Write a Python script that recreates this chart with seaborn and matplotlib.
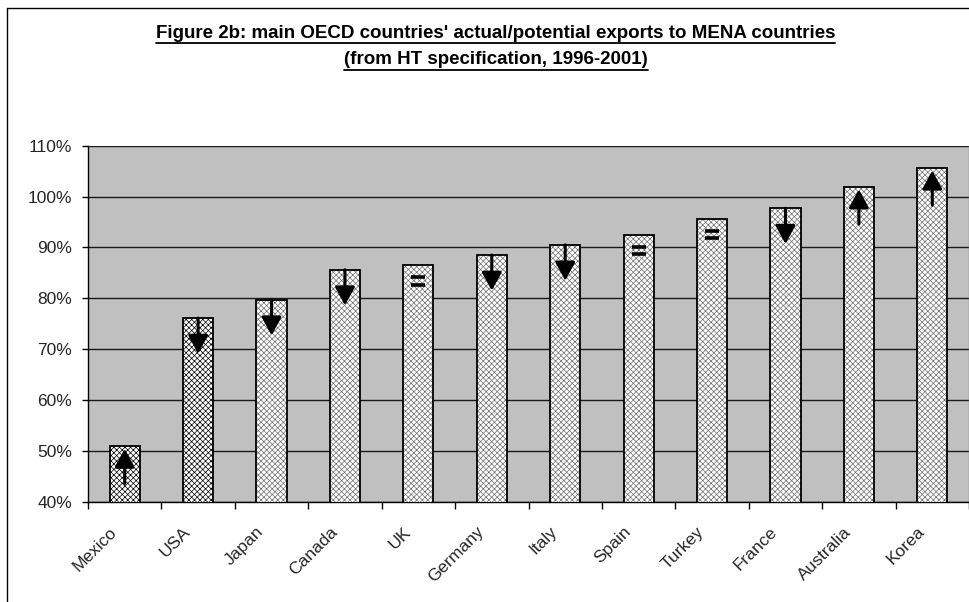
import matplotlib
matplotlib.use("Agg")
import matplotlib.pyplot as plt
import seaborn as sns
import pandas as pd
import numpy as np
from matplotlib.colors import to_rgba
from matplotlib.lines import Line2D
from matplotlib.ticker import FixedLocator, FuncFormatter

# Actual/potential export ratio (%) by exporter, HT specification 1996-2001
countries = ["Mexico", "USA", "Japan", "Canada", "UK", "Germany",
             "Italy", "Spain", "Turkey", "France", "Australia", "Korea"]
ratio_pct = [50.9, 76.1, 79.7, 85.6, 86.5, 88.5, 90.5, 92.5, 95.6, 97.7, 101.9, 105.6]
# Direction of change marked inside each bar
trend = ["up", "down", "down", "down", "same", "down",
         "down", "same", "same", "down", "up", "up"]
y_ticks = [40, 50, 60, 70, 80, 90, 100, 110]
title_lines = ["Figure 2b: main OECD countries' actual/potential exports to MENA countries",
               "(from HT specification, 1996-2001)"]

sns.set_theme(style="white")
plt.rcParams["font.family"] = ["Liberation Sans", "DejaVu Sans"]
plt.rcParams["hatch.linewidth"] = 0.5

W, H = 970, 602
fig = plt.figure(figsize=(W / 100, H / 100), dpi=100)
fig.patch.set_facecolor("white")

left, right, top, bottom = 88, 969, 145.7, 501.7
ax = fig.add_axes([left / W, 1 - bottom / H, (right - left) / W, (bottom - top) / H])

df = pd.DataFrame({"country": countries, "ratio": ratio_pct})
sns.barplot(data=df, x="country", y="ratio", ax=ax, width=0.41, color="white",
            edgecolor="black", linewidth=1.3, saturation=1, zorder=3)

# Excel-like fill patterns: first two bars denser, the rest lighter
for i, p in enumerate(ax.patches):
    p.set_hatch("xxxxxx")
    hc = "#000000" if i < 2 else "#707070"
    if hasattr(p, "set_hatchcolor"):
        p.set_hatchcolor(hc)
    else:
        p._hatch_color = to_rgba(hc)

ax.set_facecolor("#C0C0C0")
ax.set_ylim(40, 110)
ax.set_xlim(-0.5, len(countries) - 0.5)
ax.yaxis.set_major_locator(FixedLocator(y_ticks))
ax.yaxis.set_major_formatter(FuncFormatter(lambda v, _: f"{v:.0f}%"))
ax.yaxis.grid(True, color="#1a1a1a", lw=1.0, zorder=0)
ax.xaxis.grid(False)
ax.set_axisbelow(True)
ax.set_xlabel("")
ax.set_ylabel("")

# Category boundaries carry the tick marks; slanted labels sit just left of each centre
ax.set_xticks(np.arange(-0.5, len(countries), 1.0))
ax.set_xticklabels([])
ax.set_xticks(np.arange(len(countries)) - 0.14, minor=True)
ax.set_xticklabels(countries, minor=True, rotation=45, ha="right", va="center",
                   rotation_mode="anchor", fontsize=12.5)
ax.tick_params(axis="x", which="major", direction="out", length=5, width=1, color="black", bottom=True)
ax.tick_params(axis="x", which="minor", length=0, pad=20)
ax.tick_params(axis="y", direction="out", length=4.5, width=1, color="black",
               pad=7, labelsize=12.5, left=True)

for s in ["left", "bottom"]:
    ax.spines[s].set_color("black")
    ax.spines[s].set_linewidth(1.0)
ax.spines["top"].set_visible(False)
ax.spines["right"].set_color("#808080")
ax.spines["right"].set_linewidth(1.0)

# Trend markers inside the bars
for i, (v, t) in enumerate(zip(ratio_pct, trend)):
    if t == "same":
        for dy in (2.4, 3.8):
            ax.plot([i - 0.095, i + 0.095], [v - dy, v - dy], color="black",
                    lw=2.6, solid_capstyle="butt", zorder=5)
    else:
        if t == "up":
            tail, tip = v - 7.3, v - 0.5
        else:
            tail, tip = v, v - 7.0
        ax.annotate("", xy=(i, tip), xytext=(i, tail), zorder=5,
                    arrowprops=dict(arrowstyle="-|>,head_length=1.1,head_width=0.6",
                                    color="black", lw=2.2, mutation_scale=10,
                                    shrinkA=0, shrinkB=0))

# Two-line underlined bold title
title_y = [33, 60]
texts = []
for line, yy in zip(title_lines, title_y):
    texts.append(fig.text(0.511, 1 - yy / H, line, ha="center", va="center",
                          fontsize=13.5, fontweight="bold", color="black"))
fig.canvas.draw()
r = fig.canvas.get_renderer()
for t in texts:
    bb = t.get_window_extent(r)
    yline = (bb.y0 - 1.5) / H
    fig.add_artist(Line2D([bb.x0 / W, bb.x1 / W], [yline, yline], color="black", lw=1.3))

# Chart frame
fx, fy = 7.5 / W, 1 - 7.5 / H
fig.add_artist(Line2D([fx, fx], [0, fy], color="black", lw=1.0))
fig.add_artist(Line2D([fx, 1.0], [fy, fy], color="black", lw=1.0))

fig.savefig("out.png", dpi=100)
